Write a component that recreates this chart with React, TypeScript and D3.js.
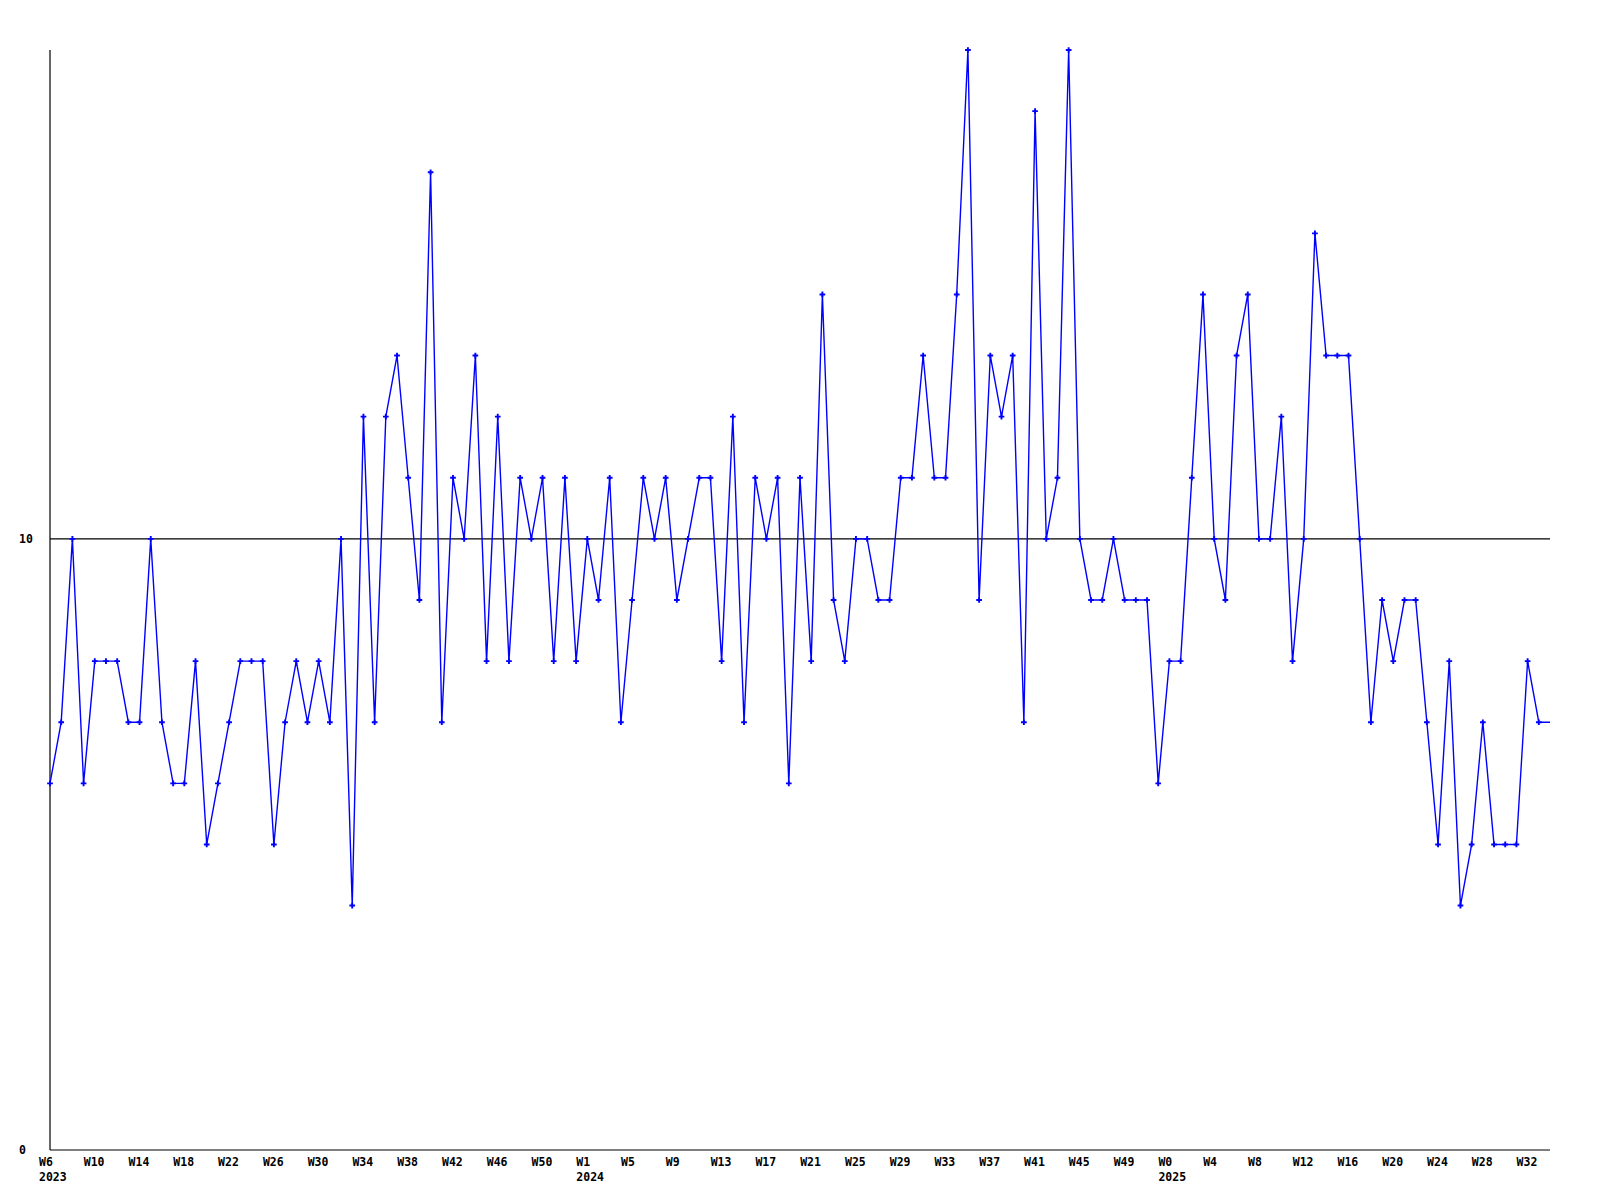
import * as d3 from 'd3';

// weekly counts, one per week, first week = 2023 W6
const values = [
  6, 7, 10, 6, 8, 8, 8, 7, 7, 10, 7, 6, 6, 8, 5, 6, 7, 8, 8, 8, 5, 7, 8, 7, 8, 7, 10,
  4, 12, 7, 12, 13, 11, 9, 16, 7, 11, 10, 13, 8, 12, 8, 11, 10, 11, 8, 11, 8, 10, 9, 11, 7, 9, 11,
  10, 11, 9, 10, 11, 11, 8, 12, 7, 11, 10, 11, 6, 11, 8, 14, 9, 8, 10, 10, 9, 9, 11, 11, 13, 11, 11,
  14, 18, 9, 13, 12, 13, 7, 17, 10, 11, 18, 10, 9, 9, 10, 9, 9, 9, 6, 8, 8, 11, 14, 10, 9, 13, 14,
  10, 10, 12, 8, 10, 15, 13, 13, 13, 10, 7, 9, 8, 9, 9, 7, 5, 8, 4, 5, 7, 5, 5, 5, 8, 7,
  7,
];

const years = [2023, 2024, 2025];
const firstWeek = [6, 1, 0];
const lastWeek = [53, 52, 34];

const yTicks = [0, 10];
const yMax = 18;
const labelEvery = 4;

const categories = years.flatMap((yr, i) =>
  d3.range(firstWeek[i], lastWeek[i] + 1).map(w => ({ year: yr, week: `W${w}` }))
);

const W = 1600;
const H = 1200;
const margin = { top: 50, right: 50, bottom: 50, left: 50 };
const font = '"DejaVu Sans Mono", monospace';

export default function App() {
  const x = d3.scaleLinear()
    .domain([0, categories.length - 1])
    .range([margin.left, W - margin.right]);
  const y = d3.scaleLinear()
    .domain([0, yMax])
    .range([H - margin.bottom, margin.top]);

  const line = d3.line<number>()
    .x((_, i) => x(i))
    .y(d => y(d));

  const marker = d3.symbol(d3.symbolCross, 18)() || '';

  const ticks = categories
    .map((c, i) => ({ ...c, i }))
    .filter(c => c.i % labelEvery === 0);

  const seenYears = new Set<number>();

  return (
    <svg width={W} height={H} style={{ position: 'absolute', left: 0, top: 0, background: '#fff' }}
      fontFamily={font} fontWeight="bold" fontSize={11.5}>
      {/* axes */}
      <line x1={x(0)} x2={x(0)} y1={y(yMax)} y2={y(0)} stroke="#000" strokeWidth={1.2} />
      <line x1={x(0)} x2={x(categories.length - 1)} y1={y(0)} y2={y(0)} stroke="#000" strokeWidth={1.2} />
      {yTicks.map(t => (
        <g key={t}>
          {t > 0 && (
            <line x1={x(0)} x2={x(categories.length - 1)} y1={y(t)} y2={y(t)} stroke="#000" strokeWidth={1.2} />
          )}
          <text x={19} y={y(t)} dy="0.35em">{t}</text>
        </g>
      ))}

      {ticks.map(t => {
        const showYear = !seenYears.has(t.year);
        seenYears.add(t.year);
        return (
          <g key={t.i} transform={`translate(${x(t.i) - 11},0)`}>
            <text y={H - margin.bottom + 16}>{t.week}</text>
            {showYear && <text y={H - margin.bottom + 31}>{t.year}</text>}
          </g>
        );
      })}

      <path d={line(values) || ''} fill="none" stroke="#0000ff" strokeWidth={1.4} />
      {values.slice(0, -1).map((v, i) => (
        <path key={i} d={marker} transform={`translate(${x(i)},${y(v)})`} fill="#0000ff" />
      ))}
    </svg>
  );
}
